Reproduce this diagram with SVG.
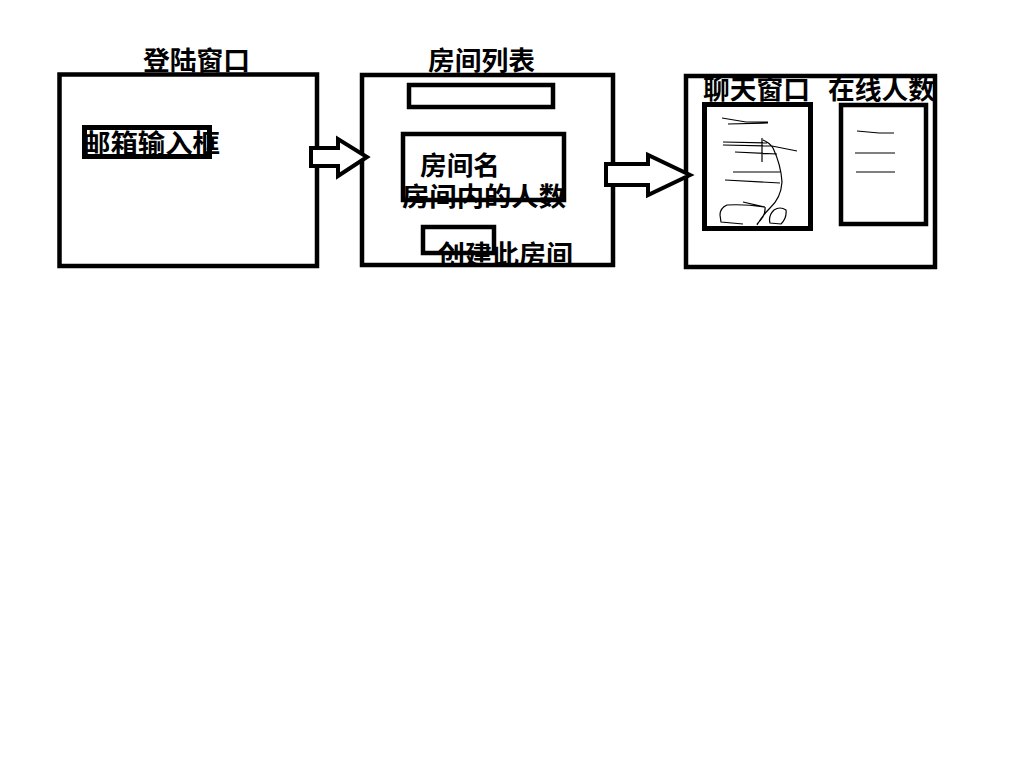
<svg xmlns="http://www.w3.org/2000/svg" width="1024" height="783" viewBox="0 0 1024 783">
<style>
.box{fill:none;stroke:#000;stroke-width:4.5}
.arr{fill:#fff;stroke:#000;stroke-width:4;stroke-linejoin:miter}
.t{font-family:"Noto Sans CJK SC","Noto Sans",sans-serif;font-weight:bold;font-size:26px;fill:#000}
.s{fill:none;stroke:#000;stroke-width:1.2}
</style>
<rect width="1024" height="783" fill="#fff"/>
<g id="login">
<rect class="box" x="59.5" y="74.5" width="257.5" height="191.5"/>
<text class="t" x="143" y="70" textLength="107" lengthAdjust="spacingAndGlyphs">登陆窗口</text>
<rect x="84.5" y="127.5" width="125" height="29" fill="none" stroke="#000" stroke-width="5"/>
<text class="t" x="83" y="153" font-size="27" textLength="137" lengthAdjust="spacingAndGlyphs">邮箱输入框</text>
</g>
<g id="roomlist">
<rect class="box" x="362" y="75" width="251" height="190"/>
<text class="t" x="428" y="70" textLength="107" lengthAdjust="spacingAndGlyphs">房间列表</text>
<rect class="box" x="409" y="85" width="144" height="22"/>
<rect class="box" x="403" y="134" width="161" height="66"/>
<text class="t" x="420" y="175" textLength="80" lengthAdjust="spacingAndGlyphs">房间名</text>
<text class="t" x="402" y="206" textLength="164" lengthAdjust="spacingAndGlyphs">房间内的人数</text>
<rect class="box" x="423" y="227" width="71" height="26"/>
<text class="t" x="438" y="264" textLength="135" lengthAdjust="spacingAndGlyphs">创建此房间</text>
</g>
<g id="chat">
<rect class="box" x="686" y="76" width="249" height="191"/>
<text class="t" x="703" y="99" textLength="107" lengthAdjust="spacingAndGlyphs">聊天窗口</text>
<text class="t" x="828" y="99" textLength="107" lengthAdjust="spacingAndGlyphs">在线人数</text>
<rect x="704.5" y="104.5" width="106" height="124" fill="none" stroke="#000" stroke-width="5"/>
<rect x="841" y="105" width="85" height="119" fill="none" stroke="#000" stroke-width="4.5"/>
<path class="s" d="M722 118 L746 122 L768 122 M728 124 L768 123 M723 142 L767 143 M723 145 L772 146 L797 151 M762 138 L762 162 M735 152 L777 154 M763 140 Q770 143 773 148 Q781 165 782 182 Q781 198 770 208 Q762 216 757 225 M733 172 L780 172 M725 180 L780 183 M743 202 L765 207 M765 207 Q745 204 727 205 Q720 208 720 215 L721 222 L743 224 M765 207 Q766 216 757 224 M774 210 Q768 216 770 223 L781 224 Q787 218 786 210 Q780 206 774 210"/>
<path class="s" stroke-width="1.5" d="M857 131 L868 132 L879 133 L894 133 M855 153 L895 153 M856 172 L895 172"/>
</g>
<g id="connectors">
<path class="arr" d="M311 148 L338 148 L338 139 L367 157 L338 176 L338 166 L311 166 Z"/>
<path class="arr" d="M606 164 L648 164 L648 155 L690 175 L648 195 L648 185 L606 185 Z"/>
</g>
</svg>
